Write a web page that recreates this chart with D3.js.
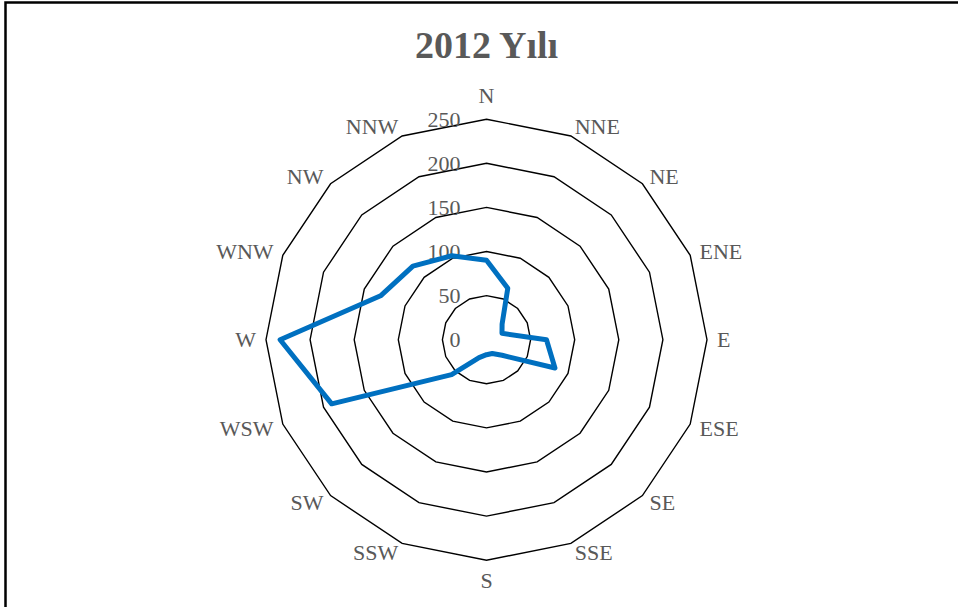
<!DOCTYPE html>
<html>
<head>
<meta charset="utf-8">
<script src="https://cdn.jsdelivr.net/npm/d3@7"></script>
<style>
  html, body { margin: 0; padding: 0; background: #fff; }
  svg { display: block; }
</style>
</head>
<body>
<script>
// Wind direction frequencies, 2012
const directions = ["N", "NNE", "NE", "ENE", "E", "ESE", "SE", "SSE",
                    "S", "SSW", "SW", "WSW", "W", "WNW", "NW", "NNW"];
const values = [90, 63, 25, 19, 68, 84, 25, 17,
                17, 22, 56, 190, 234, 130, 118, 103];
const tickValues = [0, 50, 100, 150, 200, 250];
const titleText = "2012 Yılı";

const W = 958, H = 607;
const cx = 486.5, cy = 339.7, R = 220.5;
const labelColor = "#595959";
const font = "'Liberation Serif', 'Times New Roman', serif";
const labelSize = 22;

const svg = d3.select("body").append("svg")
  .attr("width", W).attr("height", H);

// chart frame (left and top edges show inside the window)
svg.append("rect")
  .attr("x", 5.5).attr("y", 2.5)
  .attr("width", W + 10).attr("height", H + 10)
  .attr("fill", "#fff")
  .attr("stroke", "#000").attr("stroke-width", 2.5);

svg.append("text")
  .attr("x", cx).attr("y", 58)
  .attr("text-anchor", "middle")
  .attr("font-family", font)
  .attr("font-weight", "bold")
  .attr("font-size", 38)
  .attr("fill", labelColor)
  .text(titleText);

const r = d3.scaleLinear().domain([0, 250]).range([0, R]);
const angle = d3.scalePoint().domain(directions).range([0, 2 * Math.PI * (15 / 16)]);

const g = svg.append("g").attr("transform", `translate(${cx},${cy})`);

// concentric 16-gon gridlines
const ring = d3.lineRadial()
  .angle(d => angle(d))
  .curve(d3.curveLinearClosed);

tickValues.filter(v => v > 0).forEach(v => {
  g.append("path")
    .attr("d", ring.radius(() => r(v))(directions))
    .attr("fill", "none")
    .attr("stroke", "#000")
    .attr("stroke-width", 1.4);
});

// radial tick labels
g.selectAll("text.tick")
  .data(tickValues)
  .join("text")
  .attr("class", "tick")
  .attr("x", -26)
  .attr("y", d => -r(d))
  .attr("dy", "0.35em")
  .attr("text-anchor", "end")
  .attr("font-family", font)
  .attr("font-size", labelSize)
  .attr("fill", labelColor)
  .text(d => d);

// direction labels
g.selectAll("text.dir")
  .data(directions)
  .join("text")
  .attr("class", "dir")
  .each(function (d) {
    const a = angle(d);
    const sx = Math.sin(a), sy = -Math.cos(a);
    const t = d3.select(this);
    if (d === "N") {
      t.attr("x", 0).attr("y", -R - 16).attr("text-anchor", "middle");
    } else if (d === "S") {
      t.attr("x", 0).attr("y", R + 12).attr("dy", "0.72em").attr("text-anchor", "middle");
    } else {
      const rr = R + 10;
      t.attr("x", rr * sx).attr("y", rr * sy).attr("dy", "0.35em")
       .attr("text-anchor", sx > 0 ? "start" : "end");
    }
  })
  .attr("font-family", font)
  .attr("font-size", labelSize)
  .attr("fill", labelColor)
  .text(d => d);

// data polygon
const dataLine = d3.lineRadial()
  .angle((d, i) => angle(directions[i]))
  .radius(d => r(d))
  .curve(d3.curveLinearClosed);

g.append("path")
  .attr("d", dataLine(values))
  .attr("fill", "none")
  .attr("stroke", "#0070C0")
  .attr("stroke-width", 5)
  .attr("stroke-linejoin", "round");
</script>
</body>
</html>
